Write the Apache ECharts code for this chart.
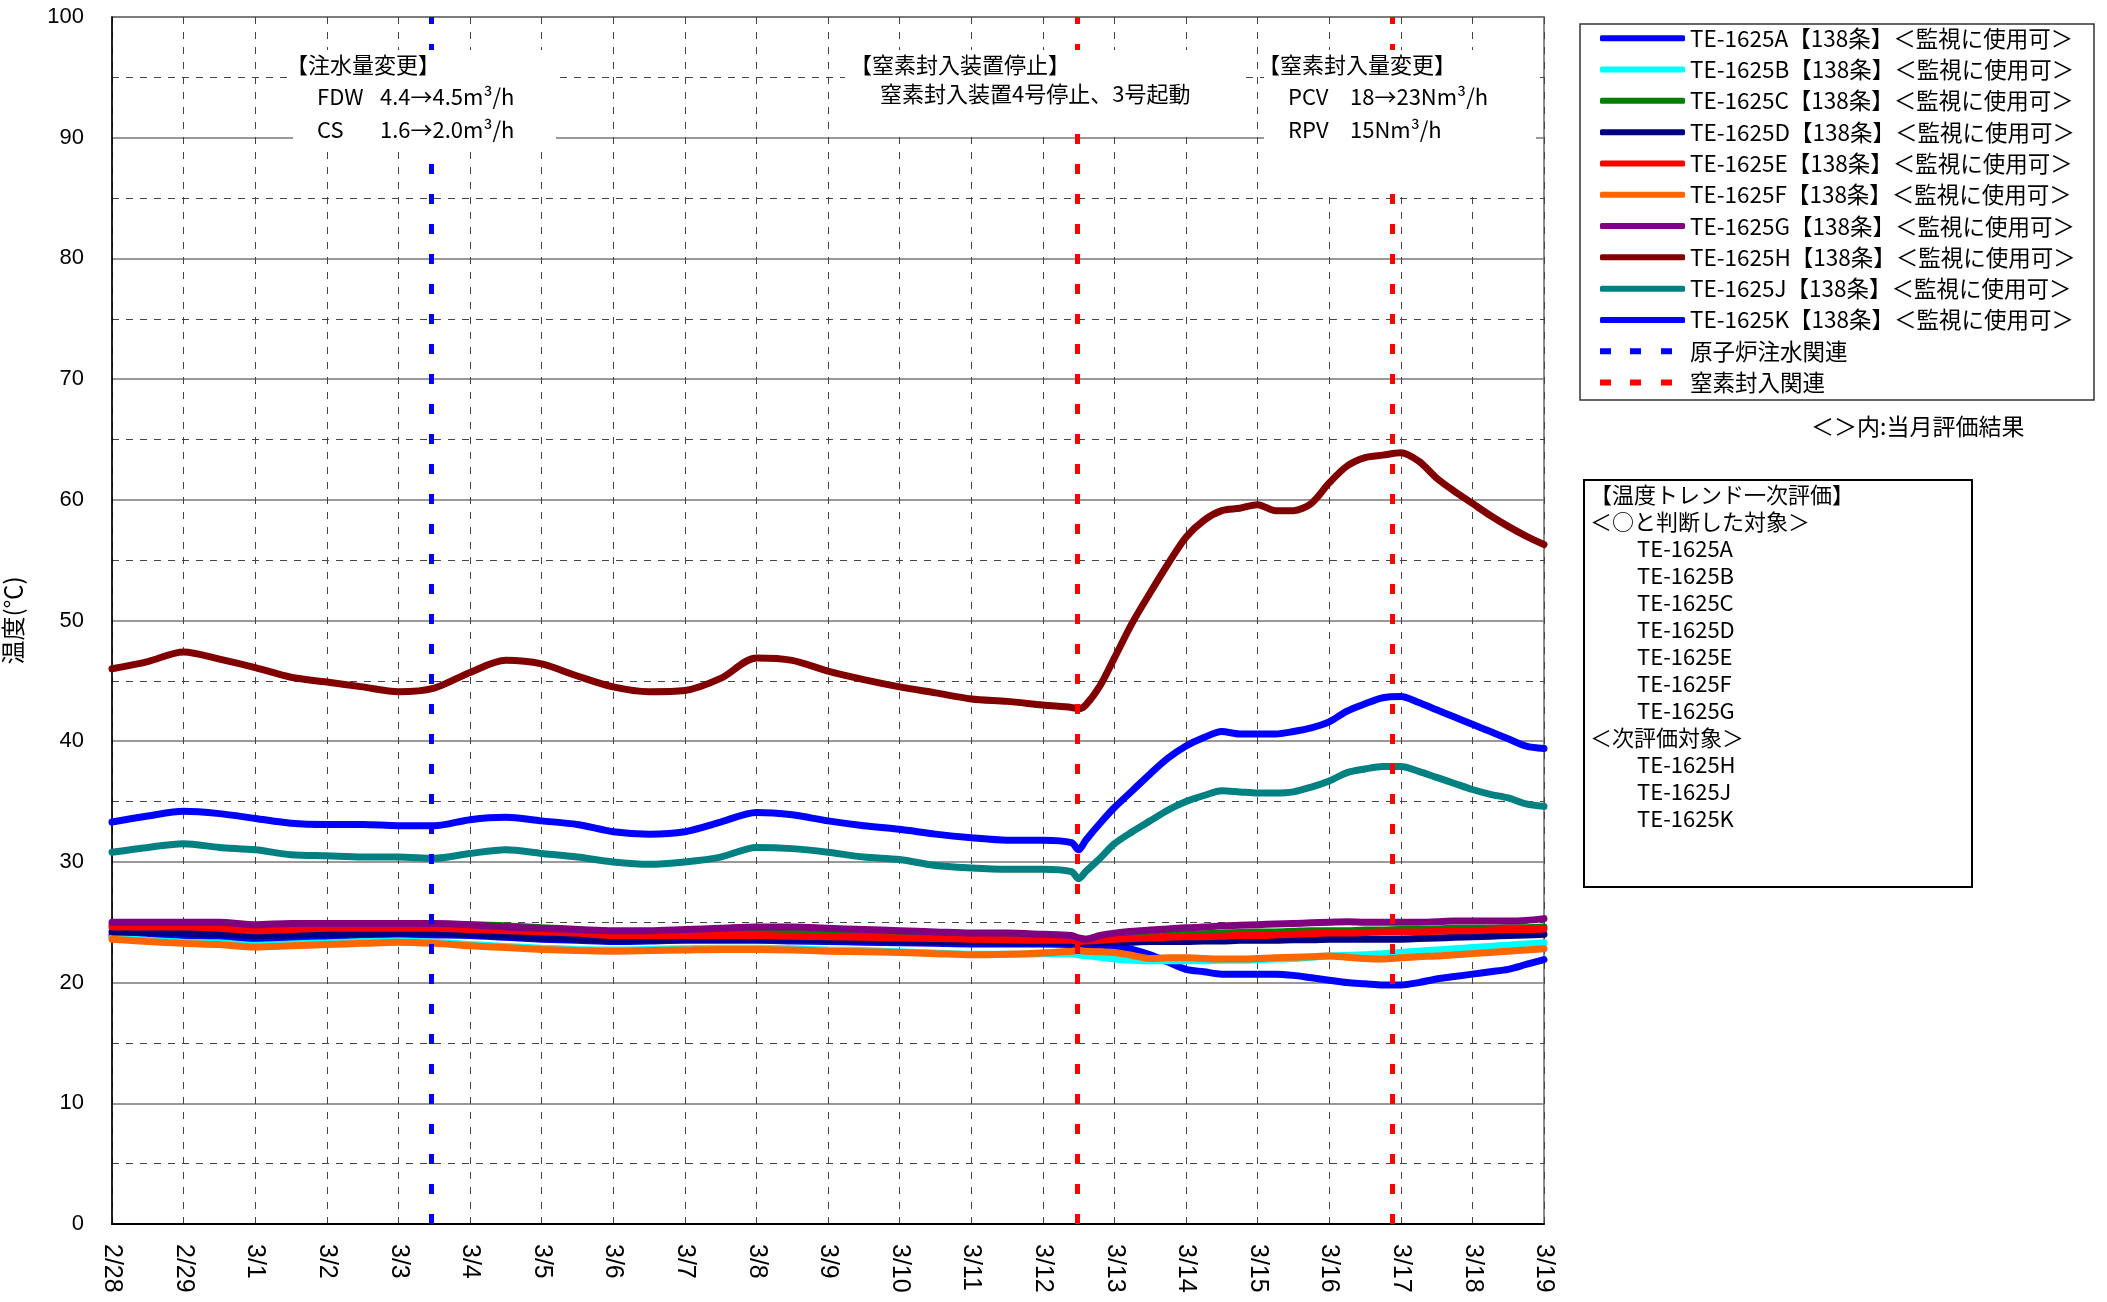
<!DOCTYPE html>
<html>
<head>
<meta charset="utf-8">
<script src="https://cdn.jsdelivr.net/npm/echarts@6/dist/echarts.min.js"></script>
<style>
  html, body { margin: 0; padding: 0; background: #fff; }
  #chart { width: 2107px; height: 1302px; }
</style>
</head>
<body>
<div id="chart"></div>
<script>
// 日付ラベル（2/28 を 0 とした日数）
var dayLabels = ['2/28', '2/29', '3/1', '3/2', '3/3', '3/4', '3/5', '3/6', '3/7', '3/8', '3/9',
    '3/10', '3/11', '3/12', '3/13', '3/14', '3/15', '3/16', '3/17', '3/18', '3/19'];

// 読み取り位置（日数）
var dayPos = [0, 0.5, 1, 1.5, 2, 2.5, 3, 3.5, 4, 4.5, 5, 5.5, 6, 6.5, 7, 7.5, 8, 8.5, 9, 9.5,
    10, 10.5, 11, 11.5, 12, 12.5, 13, 13.4, 13.5, 13.6, 13.8, 14, 14.25, 14.5, 14.75, 15,
    15.25, 15.5, 15.75, 16, 16.25, 16.5, 16.75, 17, 17.25, 17.5, 17.75, 18, 18.25, 18.5,
    18.75, 19, 19.25, 19.5, 19.75, 20];

var tempA = [23.9, 23.85, 23.8, 23.7, 23.6, 23.7, 23.8, 23.9, 24.0, 23.95, 23.9, 23.75, 23.6, 23.5, 23.4, 23.45, 23.5, 23.5, 23.5, 23.45,
    23.4, 23.35, 23.3, 23.25, 23.2, 23.2, 23.2, 23.15, 23.1, 23.1, 23.1, 23.0, 22.75, 22.3, 21.7, 21.1,
    20.9, 20.7, 20.7, 20.7, 20.7, 20.6, 20.4, 20.2, 20.0, 19.9, 19.8, 19.8, 20.0, 20.3,
    20.5, 20.7, 20.9, 21.1, 21.5, 21.9];
var tempB = [23.7, 23.5, 23.35, 23.3, 23.1, 23.2, 23.3, 23.4, 23.45, 23.35, 23.15, 23.0, 22.85, 22.75, 22.7, 22.75, 22.8, 22.85, 22.85, 22.8,
    22.7, 22.65, 22.55, 22.45, 22.35, 22.35, 22.4, 22.4, 22.3, 22.25, 22.1, 21.95, 21.85, 21.8, 21.8, 21.8,
    21.8, 21.85, 21.85, 21.9, 21.95, 22.0, 22.1, 22.2, 22.25, 22.3, 22.4, 22.5, 22.6, 22.7,
    22.8, 22.9, 23.0, 23.1, 23.2, 23.3];
var tempC = [24.8, 24.8, 24.8, 24.7, 24.6, 24.7, 24.7, 24.7, 24.7, 24.8, 24.8, 24.7, 24.55, 24.4, 24.1, 24.1, 24.2, 24.3, 24.3, 24.3,
    24.2, 24.1, 24.0, 23.9, 23.85, 23.8, 23.75, 23.7, 23.6, 23.6, 23.7, 23.8, 23.85, 23.9, 23.95, 24.0,
    24.05, 24.1, 24.15, 24.2, 24.2, 24.25, 24.3, 24.3, 24.3, 24.35, 24.35, 24.4, 24.4, 24.45,
    24.5, 24.5, 24.5, 24.55, 24.55, 24.6];
var tempD = [24.2, 24.15, 24.1, 24.0, 23.9, 23.95, 24.0, 24.05, 24.1, 24.1, 24.0, 23.85, 23.7, 23.6, 23.5, 23.55, 23.6, 23.6, 23.6, 23.6,
    23.55, 23.5, 23.45, 23.4, 23.4, 23.35, 23.35, 23.3, 23.25, 23.3, 23.3, 23.35, 23.35, 23.4, 23.4, 23.4,
    23.45, 23.45, 23.5, 23.5, 23.5, 23.55, 23.55, 23.6, 23.6, 23.6, 23.6, 23.6, 23.65, 23.7,
    23.75, 23.8, 23.85, 23.9, 23.95, 24.0];
var tempE = [24.6, 24.6, 24.6, 24.5, 24.3, 24.4, 24.5, 24.5, 24.5, 24.5, 24.4, 24.3, 24.2, 24.1, 23.9, 23.9, 23.9, 23.9, 23.9, 23.85,
    23.8, 23.75, 23.7, 23.65, 23.6, 23.55, 23.5, 23.5, 23.4, 23.45, 23.5, 23.6, 23.65, 23.7, 23.75, 23.8,
    23.8, 23.85, 23.9, 23.9, 23.95, 24.0, 24.05, 24.1, 24.1, 24.15, 24.2, 24.2, 24.2, 24.25,
    24.3, 24.3, 24.35, 24.4, 24.4, 24.45];
var tempF = [23.6, 23.4, 23.25, 23.15, 22.95, 23.05, 23.15, 23.25, 23.35, 23.25, 23.05, 22.9, 22.75, 22.65, 22.6, 22.65, 22.7, 22.75, 22.75, 22.7,
    22.6, 22.55, 22.5, 22.4, 22.3, 22.35, 22.45, 22.6, 22.65, 22.6, 22.55, 22.5, 22.25, 22.0, 22.05, 22.05,
    22.0, 21.95, 21.95, 22.0, 22.05, 22.1, 22.15, 22.2, 22.1, 22.0, 21.95, 22.05, 22.15, 22.2,
    22.3, 22.4, 22.5, 22.6, 22.7, 22.8];
var tempG = [25.0, 25.0, 25.0, 25.0, 24.8, 24.9, 24.9, 24.9, 24.9, 24.9, 24.8, 24.6, 24.5, 24.4, 24.3, 24.3, 24.4, 24.5, 24.6, 24.6,
    24.5, 24.4, 24.3, 24.2, 24.1, 24.1, 24.0, 23.9, 23.7, 23.6, 23.9, 24.1, 24.25, 24.35, 24.45, 24.55,
    24.6, 24.7, 24.75, 24.8, 24.85, 24.9, 24.95, 25.0, 25.05, 25.0, 25.0, 25.0, 25.0, 25.05,
    25.1, 25.1, 25.1, 25.1, 25.15, 25.3];
var tempH = [46.0, 46.6, 47.4, 46.8, 46.1, 45.3, 44.9, 44.5, 44.1, 44.4, 45.7, 46.7, 46.4, 45.4, 44.5, 44.1, 44.2, 45.2, 46.9, 46.7,
    45.8, 45.1, 44.5, 44.0, 43.5, 43.3, 43.0, 42.8, 42.7, 43.0, 44.6, 46.9, 49.8, 52.3, 54.7, 56.9,
    58.3, 59.1, 59.3, 59.6, 59.1, 59.1, 59.7, 61.4, 62.8, 63.5, 63.7, 63.9, 63.2, 61.8,
    60.7, 59.7, 58.7, 57.8, 57.0, 56.3];
var tempJ = [30.8, 31.2, 31.5, 31.2, 31.0, 30.6, 30.5, 30.4, 30.4, 30.3, 30.7, 31.0, 30.7, 30.4, 30.0, 29.8, 30.0, 30.4, 31.2, 31.1,
    30.8, 30.4, 30.2, 29.7, 29.5, 29.4, 29.4, 29.2, 28.6, 29.2, 30.3, 31.5, 32.5, 33.4, 34.3, 35.0,
    35.5, 35.9, 35.8, 35.7, 35.7, 35.8, 36.2, 36.7, 37.4, 37.7, 37.9, 37.9, 37.5, 37.0,
    36.5, 36.0, 35.6, 35.3, 34.8, 34.6];
var tempK = [33.3, 33.8, 34.2, 34.0, 33.6, 33.2, 33.1, 33.1, 33.0, 33.0, 33.5, 33.7, 33.4, 33.1, 32.5, 32.3, 32.5, 33.3, 34.1, 33.9,
    33.4, 33.0, 32.7, 32.3, 32.0, 31.8, 31.8, 31.6, 31.0, 31.8, 33.2, 34.5, 35.9, 37.3, 38.6, 39.6,
    40.3, 40.8, 40.6, 40.6, 40.6, 40.8, 41.1, 41.6, 42.5, 43.1, 43.6, 43.7, 43.2, 42.6,
    42.0, 41.4, 40.8, 40.2, 39.6, 39.4];

var sensorNames = ['TE-1625A', 'TE-1625B', 'TE-1625C', 'TE-1625D', 'TE-1625E',
    'TE-1625F', 'TE-1625G', 'TE-1625H', 'TE-1625J', 'TE-1625K'];
var sensorTag = '【138条】＜監視に使用可＞';
var sensorColors = ['#0000FF', '#00FFFF', '#008000', '#000080', '#FF0000',
    '#FF6600', '#800080', '#800000', '#008080', '#0000FF'];
var sensorValues = [tempA, tempB, tempC, tempD, tempE, tempF, tempG, tempH, tempJ, tempK];

// イベント（日数）
var injectEvents = [4.46];           // 原子炉注水関連
var nitrogenEvents = [13.48, 17.88]; // 窒素封入関連

var evalLines = [
    ['【温度トレンド一次評価】', 0],
    ['＜○と判断した対象＞', 0],
    ['TE-1625A', 1], ['TE-1625B', 1], ['TE-1625C', 1], ['TE-1625D', 1],
    ['TE-1625E', 1], ['TE-1625F', 1], ['TE-1625G', 1],
    ['＜次評価対象＞', 0],
    ['TE-1625H', 1], ['TE-1625J', 1], ['TE-1625K', 1]
];

var jp = '"Noto Sans CJK JP", sans-serif';
var latin = '"Liberation Sans", Arial, sans-serif';
// 凡例の破線アイコン（右端の M で幅を確保）
var dashIcon = 'path://M0,0h11v6h-11z M30,0h11v6h-11z M61,0h11v6h-11z M85,6';

function pairs(vals) {
    return dayPos.map(function (d, i) { return [d, vals[i]]; });
}

var series = [];
var legendData = [];
for (var i = 0; i < sensorNames.length; i++) {
    var nm = sensorNames[i] + sensorTag;
    legendData.push({ name: nm, icon: 'roundRect' });
    series.push({
        name: nm,
        type: 'line',
        data: pairs(sensorValues[i]),
        symbol: 'none',
        smooth: 0.3,
        itemStyle: { color: sensorColors[i] },
        lineStyle: { color: sensorColors[i], width: 7, cap: 'round' }
    });
}

function eventSeries(name, color, xs) {
    legendData.push({ name: name, icon: dashIcon });
    return {
        name: name,
        type: 'line',
        data: [],
        symbol: 'none',
        itemStyle: { color: color },
        lineStyle: { color: color, width: 5, type: [11, 19] },
        markLine: {
            silent: true,
            symbol: ['none', 'none'],
            label: { show: false },
            lineStyle: { color: color, width: 5, type: [10, 20] },
            data: xs.map(function (x) { return { xAxis: x }; })
        }
    };
}
series.push(eventSeries('原子炉注水関連', '#0000FF', injectEvents));
series.push(eventSeries('窒素封入関連', '#FF0000', nitrogenEvents));

// 注記（白抜きの箱）
function box(x, y, w, h) {
    return { type: 'rect', z: 100, shape: { x: x, y: y, width: w, height: h }, style: { fill: '#fff' } };
}
function note(x, y, text, size) {
    return {
        type: 'text', z: 101, x: x, y: y,
        style: { text: text, font: (size || 22) + 'px ' + jp, fill: '#000', verticalAlign: 'middle' }
    };
}

var graphics = [
    box(293, 50, 263, 95),
    note(286, 65, '【注水量変更】'),
    note(317, 97, 'FDW'), note(380, 97, '4.4→4.5m³/h'),
    note(317, 130, 'CS'), note(380, 130, '1.6→2.0m³/h'),

    box(845, 50, 400, 82),
    note(850, 65, '【窒素封入装置停止】'),
    note(880, 94, '窒素封入装置4号停止、3号起動'),

    box(1264, 50, 272, 140),
    note(1258, 65, '【窒素封入量変更】'),
    note(1288, 97, 'PCV'), note(1350, 97, '18→23Nm³/h'),
    note(1288, 130, 'RPV'), note(1350, 130, '15Nm³/h'),

    // 凡例の枠
    { type: 'rect', z: 50, shape: { x: 1580, y: 24, width: 514, height: 376 },
      style: { fill: 'none', stroke: '#333', lineWidth: 1.5 } },
    note(1811, 426, '＜＞内:当月評価結果', 23),

    // 評価の枠
    { type: 'rect', z: 50, shape: { x: 1584, y: 480, width: 388, height: 407 },
      style: { fill: '#fff', stroke: '#000', lineWidth: 2 } }
];
evalLines.forEach(function (ln, k) {
    graphics.push(note(ln[1] ? 1637 : 1590, 495 + k * 27, ln[0]));
});

var chart = echarts.init(document.getElementById('chart'));
var option = {
    animation: false,
    backgroundColor: '#fff',
    grid: {
        left: 112, top: 17, right: 563, bottom: 78,
        outerBoundsMode: 'none',
        show: true, borderColor: '#666', borderWidth: 1.5
    },
    legend: {
        data: legendData,
        orient: 'vertical',
        left: 1600, top: 27,
        padding: 0,
        itemWidth: 85, itemHeight: 6, itemGap: 8.8,
        selectedMode: false,
        textStyle: { fontSize: 22.5, lineHeight: 22, fontFamily: jp, color: '#000' }
    },
    xAxis: {
        type: 'value',
        min: 0, max: 20, interval: 1,
        axisLine: { show: true, lineStyle: { color: '#000', width: 2 } },
        axisTick: { show: false },
        axisLabel: {
            rotate: -90, margin: 20,
            fontSize: 25, fontFamily: latin, color: '#000',
            formatter: function (v) { return dayLabels[Math.round(v)]; }
        },
        splitLine: { show: true, lineStyle: { color: '#444', width: 1, type: [7, 8] } }
    },
    yAxis: {
        type: 'value',
        min: 0, max: 100, interval: 10,
        name: '温度(℃)',
        nameLocation: 'middle', nameRotate: 90, nameGap: 87,
        nameTextStyle: { fontSize: 24, fontFamily: jp, color: '#000' },
        axisLine: { show: true, lineStyle: { color: '#000', width: 1.5 } },
        axisTick: { show: false },
        axisLabel: { fontSize: 22, fontFamily: latin, color: '#000', margin: 28 },
        splitLine: { show: true, lineStyle: { color: '#777', width: 1.5 } },
        minorTick: { show: false, splitNumber: 2 },
        minorSplitLine: { show: true, lineStyle: { color: '#444', width: 1, type: [7, 7] } }
    },
    graphic: graphics,
    series: series
};
chart.setOption(option);
</script>
</body>
</html>
